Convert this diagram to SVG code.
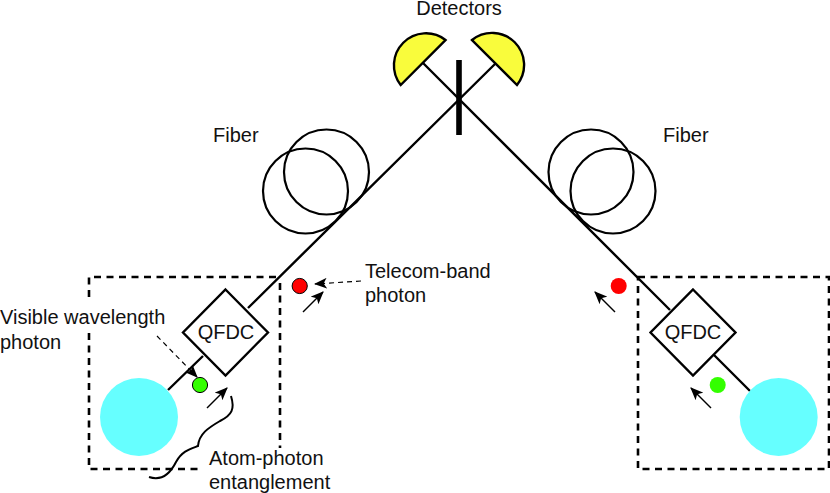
<svg xmlns="http://www.w3.org/2000/svg" width="830" height="493" viewBox="0 0 830 493">
<style>
text{font-family:"Liberation Sans",Arial,sans-serif;font-size:20px;fill:#111}
.m{text-anchor:middle}
.l{fill:none;stroke:#000;stroke-width:2.4}
.c{fill:none;stroke:#000;stroke-width:2.2}
.d{fill:none;stroke:#000;stroke-width:2.6;stroke-dasharray:7 5.5}
.a{fill:none;stroke:#000;stroke-width:1.4;marker-end:url(#h)}
.t{fill:none;stroke:#000;stroke-width:1.2;stroke-dasharray:5 4;marker-end:url(#h)}
.dm{fill:#fff;stroke:#000;stroke-width:2.4}
.det{fill:#f9fc3c;stroke:#000;stroke-width:2.4}
.atom{fill:#66ffff}
</style>
<defs>
<marker id="h" viewBox="0 0 12 10" refX="11" refY="5" markerWidth="13" markerHeight="11" markerUnits="userSpaceOnUse" orient="auto"><path d="M0 0L12 5L0 10L3 5Z" fill="#000"/></marker>
</defs>
<g id="connectors">
<path class="l" d="M423 63L670 310M714 355L750 391"/>
<path class="l" d="M496 63L248 308M203 356L168 390"/>
<path class="d" d="M276 277H89V302M89 333V469H202M280 283V448"/>
<path class="d" d="M638 277H829V469H638Z"/>
<path class="a" d="M303 312L323 292"/>
<path class="a" d="M615 312L595 292"/>
<path class="a" d="M207 408L227 388"/>
<path class="a" d="M711 408L691 388"/>
<path class="t" d="M361 281L315 284"/>
<path class="t" d="M157 336L197 377"/>
<path fill="none" stroke="#000" stroke-width="2" d="M231 396C235 409 232 415 220 421C208 428 199 434 198 446C190 449 182 451 176 462C170 474 161 481 149 477"/>
</g>
<g id="bar"><rect x="456.2" y="60" width="5.6" height="75" fill="#000"/></g>
<g id="detector-left"><path class="det" d="M400.7 85A32 32 0 0 1 445.5 40Z"/></g>
<g id="detector-right"><path class="det" d="M472 40A32 32 0 0 1 517 85Z"/></g>
<g id="fiber-left"><circle class="c" cx="305.5" cy="191" r="42.5"/><circle class="c" cx="326.5" cy="172" r="42.5"/></g>
<g id="fiber-right"><circle class="c" cx="591" cy="172" r="42.5"/><circle class="c" cx="613" cy="191" r="42.5"/></g>
<g id="qfdc-left"><path class="dm" d="M225.5 289.5L268 332.5L225.5 375.5L183 332.5Z"/><text class="m" x="226" y="339">QFDC</text></g>
<g id="qfdc-right"><path class="dm" d="M693 289.5L735.5 332.5L693 375.5L650.5 332.5Z"/><text class="m" x="693" y="339">QFDC</text></g>
<g id="atom-left"><circle class="atom" cx="139" cy="417" r="39"/></g>
<g id="atom-right"><circle class="atom" cx="778.7" cy="417" r="39"/></g>
<g id="photon-red-left"><circle cx="299.7" cy="286" r="7.6" fill="#f00" stroke="#000" stroke-width="1"/></g>
<g id="photon-red-right"><circle cx="618.7" cy="286" r="8" fill="#f00"/></g>
<g id="photon-green-left"><circle cx="200" cy="385" r="7.6" fill="#3f0" stroke="#000" stroke-width="1"/></g>
<g id="photon-green-right"><circle cx="717.7" cy="385" r="8" fill="#3f0"/></g>
<g id="labels">
<text class="m" x="459" y="15">Detectors</text>
<text x="213" y="142">Fiber</text>
<text x="663" y="142">Fiber</text>
<text x="365" y="278">Telecom-band</text>
<text x="365" y="302">photon</text>
<text x="0" y="324">Visible wavelength</text>
<text x="0" y="349">photon</text>
<text x="209" y="465">Atom-photon</text>
<text x="209" y="489">entanglement</text>
</g>
</svg>
